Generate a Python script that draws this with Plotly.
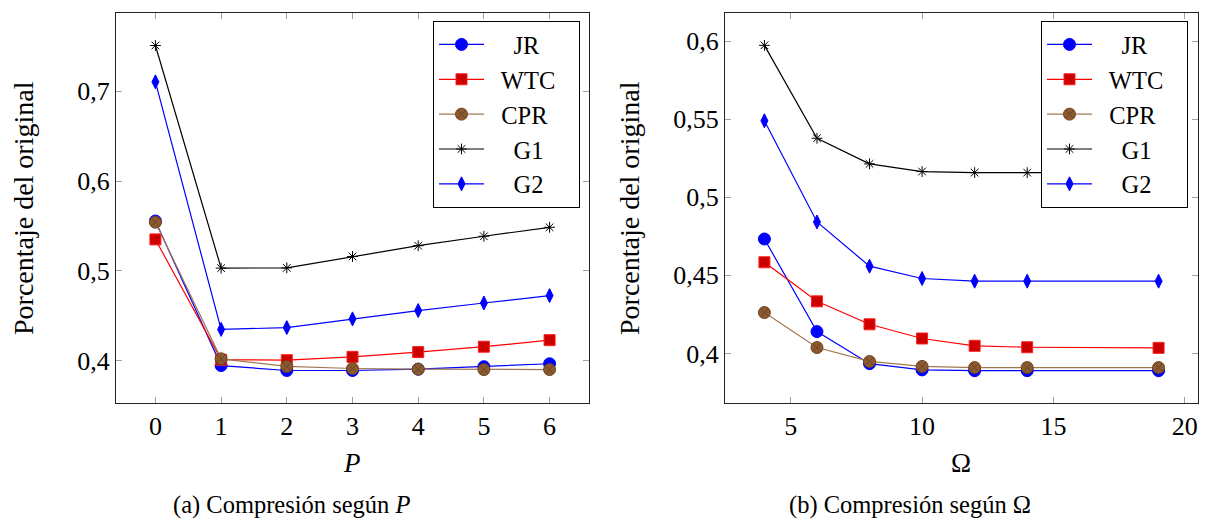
import plotly.graph_objects as go

# Data: compression ratio as a function of P (left) and Omega (right)
p_values = [0, 1, 2, 3, 4, 5, 6]
omega_values = [4, 6, 8, 10, 12, 14, 19]

series_names = ["JR", "WTC", "CPR", "G1", "G2"]

jr_p = [0.5555, 0.3945, 0.389, 0.389, 0.3905, 0.3932, 0.3965]
wtc_p = [0.535, 0.401, 0.4005, 0.4042, 0.4095, 0.4155, 0.4228]
cpr_p = [0.5542, 0.402, 0.3935, 0.3912, 0.3905, 0.39, 0.39]
g1_p = [0.751, 0.503, 0.5033, 0.516, 0.528, 0.5385, 0.5485]
g2_p = [0.7105, 0.4348, 0.4368, 0.4465, 0.4558, 0.4642, 0.4724]

jr_o = [0.4733, 0.414, 0.3935, 0.3895, 0.389, 0.389, 0.389]
wtc_o = [0.4584, 0.4334, 0.4187, 0.4096, 0.4049, 0.404, 0.4036]
cpr_o = [0.4262, 0.4038, 0.3949, 0.3917, 0.391, 0.391, 0.391]
g1_o = [0.5973, 0.5378, 0.5214, 0.5165, 0.5158, 0.5158, 0.5158]
g2_o = [0.549, 0.4842, 0.4559, 0.448, 0.4463, 0.4463, 0.4463]

y_ticks_p = [0.4, 0.5, 0.6, 0.7]
y_ticktext_p = ["0,4", "0,5", "0,6", "0,7"]
y_ticks_o = [0.4, 0.45, 0.5, 0.55, 0.6]
y_ticktext_o = ["0,4", "0,45", "0,5", "0,55", "0,6"]
x_ticks_o = [5, 10, 15, 20]

FONT = "Liberation Serif"

styles = {
    "JR": dict(line=dict(color="#0000ff", width=1.2),
               marker=dict(symbol="circle", size=12, color="#0000ff",
                           line=dict(color="#0000ff", width=1))),
    "WTC": dict(line=dict(color="#ff0000", width=1.2),
                marker=dict(symbol="square", size=11, color="#cc0000",
                            line=dict(color="#ff2020", width=1))),
    "CPR": dict(line=dict(color="#a07850", width=1.2),
                marker=dict(symbol="circle-x", size=12, color="#8c5a2e",
                            line=dict(color="#6b4423", width=1))),
    "G1": dict(line=dict(color="#000000", width=1.2),
               marker=dict(symbol="asterisk-open", size=9, color="#000000",
                           line=dict(color="#000000", width=1))),
    "G2": dict(line=dict(color="#0000ff", width=1.2),
               marker=dict(symbol="diamond-tall", size=10, color="#0000ff",
                           line=dict(color="#0000ff", width=1))),
}

left_data = [jr_p, wtc_p, cpr_p, g1_p, g2_p]
right_data = [jr_o, wtc_o, cpr_o, g1_o, g2_o]

# Legend labels padded so they sit centred in the legend box
label_text = {"JR": "    JR", "WTC": "  WTC   ", "CPR": "  CPR",
              "G1": "    G1", "G2": "    G2"}

fig = go.Figure()
for name, ys in zip(series_names, left_data):
    fig.add_trace(go.Scatter(x=p_values, y=ys, mode="lines+markers",
                             name=label_text[name], xaxis="x", yaxis="y",
                             legend="legend", **styles[name]))
for name, ys in zip(series_names, right_data):
    fig.add_trace(go.Scatter(x=omega_values, y=ys, mode="lines+markers",
                             name=label_text[name], xaxis="x2", yaxis="y2",
                             legend="legend2", **styles[name]))

W, H = 1209, 522
left_box = (116, 589)
right_box = (725, 1198)
top_px, bottom_px = 13, 403


def px_x(v):
    return v / W


def px_y(v):
    return 1 - v / H


axis_common = dict(
    showline=True, linecolor="#222222", linewidth=1.2, mirror="allticks",
    ticks="inside", ticklen=6, tickcolor="#a0a0a0", tickwidth=1,
    showgrid=False, zeroline=False,
    tickfont=dict(family=FONT, size=26, color="black"),
)

legend_common = dict(
    xanchor="right", yanchor="top",
    bordercolor="black", borderwidth=1, bgcolor="white",
    font=dict(family=FONT, size=24.5, color="black"),
    itemwidth=45, tracegroupgap=0,
)

fig.update_layout(
    width=W, height=H,
    margin=dict(l=0, r=0, t=0, b=0),
    font=dict(family=FONT, size=26, color="black"),
    paper_bgcolor="white", plot_bgcolor="white",
    showlegend=True,
    xaxis=dict(domain=[px_x(left_box[0]), px_x(left_box[1])],
               range=[-0.6, 6.6], tickvals=p_values, anchor="y", **axis_common),
    yaxis=dict(domain=[px_y(bottom_px), px_y(top_px)],
               range=[0.3528, 0.7872], tickvals=y_ticks_p, ticktext=y_ticktext_p,
               anchor="x", **axis_common),
    xaxis2=dict(domain=[px_x(right_box[0]), px_x(right_box[1])],
                range=[2.5, 20.5], tickvals=x_ticks_o, anchor="y2", **axis_common),
    yaxis2=dict(domain=[px_y(bottom_px), px_y(top_px)],
                range=[0.3683, 0.6180], tickvals=y_ticks_o, ticktext=y_ticktext_o,
                anchor="x2", **axis_common),
    legend=dict(x=px_x(580), y=px_y(21), **legend_common),
    legend2=dict(x=px_x(1188), y=px_y(21), **legend_common),
)

ylabel_font = dict(family=FONT, size=28, color="black")
xlabel_font = dict(family=FONT, size=27, color="black")
caption_font = dict(family=FONT, size=24.5, color="black")

annotations = [
    dict(text="Porcentaje del original", x=px_x(23), y=px_y(208), textangle=-90,
         font=ylabel_font),
    dict(text="Porcentaje del original", x=px_x(629), y=px_y(208), textangle=-90,
         font=ylabel_font),
    dict(text="<i>P</i>", x=px_x(352), y=px_y(463), font=xlabel_font),
    dict(text="Ω", x=px_x(961), y=px_y(463), font=xlabel_font),
    dict(text="(a) Compresión según <i>P</i>", x=px_x(292), y=px_y(505),
         font=caption_font),
    dict(text="(b) Compresión según Ω", x=px_x(910), y=px_y(505),
         font=caption_font),
]
for a in annotations:
    a.update(xref="paper", yref="paper", showarrow=False,
             xanchor="center", yanchor="middle")
fig.update_layout(annotations=annotations)

fig.write_html("out.html")
